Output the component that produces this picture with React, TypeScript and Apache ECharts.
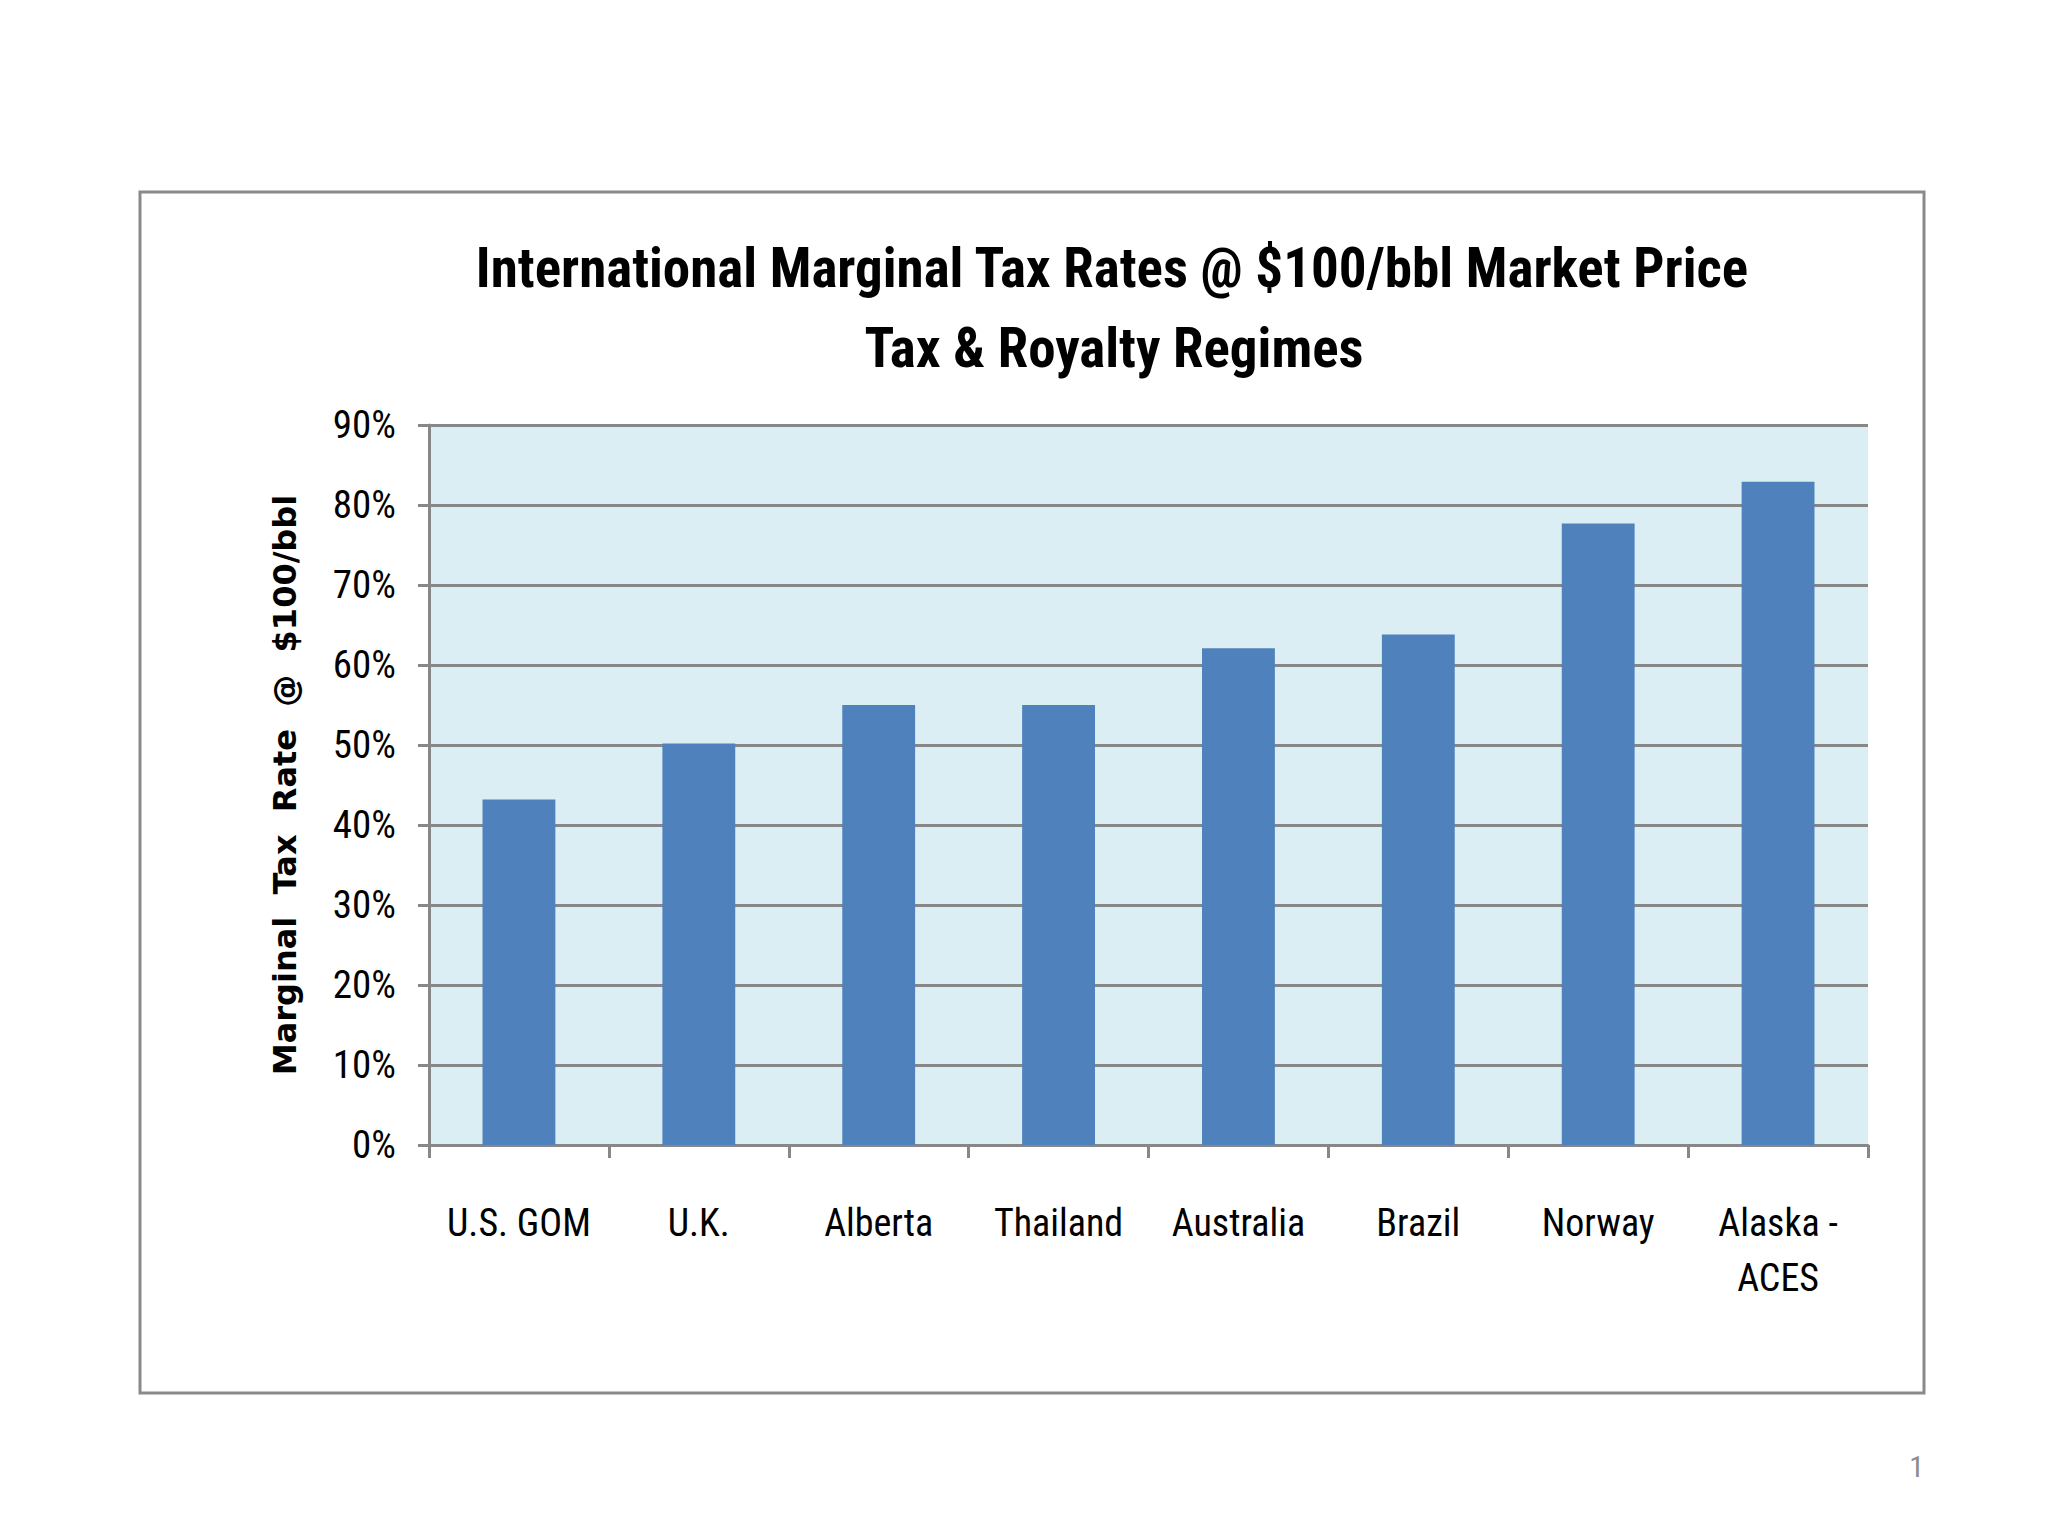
import React, { useEffect, useRef } from "react";
import * as echarts from "echarts";

const categories = ["U.S. GOM", "U.K.", "Alberta", "Thailand", "Australia", "Brazil", "Norway", "Alaska -\nACES"];
const rates = [43.2, 50.2, 55.0, 55.0, 62.1, 63.8, 77.7, 82.9];
const titleLines = ["International Marginal Tax Rates @ $100/bbl Market Price", "Tax & Royalty Regimes"];
const yAxisName = "Marginal  Tax  Rate  @  $100/bbl";
const pageNumber = "1";

const FONT = "'Liberation Sans Narrow', 'Roboto Condensed', 'Noto Sans', sans-serif";

export default function App() {
  const ref = useRef<HTMLDivElement>(null);
  useEffect(() => {
    if (!ref.current) return;
    const chart = echarts.init(ref.current, null, { renderer: "svg" });
    chart.setOption({
      animation: false,
      backgroundColor: "#ffffff",
      grid: {
        left: 429,
        top: 425,
        right: 180,
        bottom: 391,
        show: true,
        backgroundColor: "#DBEEF4",
        borderWidth: 0,
      },
      graphic: [
        {
          type: "rect",
          shape: { x: 140, y: 192, width: 1784, height: 1201 },
          style: { fill: "none", stroke: "#8a8a8a", lineWidth: 3 },
          z: 0,
        },
        {
          type: "text",
          x: 1112,
          y: 268,
          style: {
            text: titleLines[0],
            font: `bold 55px ${FONT}`,
            fill: "#000",
            align: "center",
            verticalAlign: "middle",
          },
        },
        {
          type: "text",
          x: 1114,
          y: 348,
          style: {
            text: titleLines[1],
            font: `bold 55px ${FONT}`,
            fill: "#000",
            align: "center",
            verticalAlign: "middle",
          },
        },
        {
          type: "text",
          x: 1924,
          y: 1466,
          style: {
            text: pageNumber,
            font: `30px ${FONT}`,
            fill: "#8c8c8c",
            align: "right",
            verticalAlign: "middle",
          },
        },
      ],
      xAxis: {
        type: "category",
        data: categories,
        axisLine: { show: true, lineStyle: { color: "#878787", width: 3 } },
        axisTick: { show: true, length: 13, lineStyle: { color: "#878787", width: 3 } },
        axisLabel: {
          color: "#000",
          fontFamily: FONT,
          fontSize: 38,
          lineHeight: 55,
          margin: 50,
          interval: 0,
        },
        splitLine: { show: false },
      },
      yAxis: {
        type: "value",
        min: 0,
        max: 90,
        interval: 10,
        name: yAxisName,
        nameLocation: "middle",
        nameRotate: 90,
        nameGap: 128,
        nameTextStyle: {
          fontFamily: "'DejaVu Sans', sans-serif",
          fontWeight: "bold",
          fontSize: 32,
          color: "#000",
        },
        axisLine: { show: true, lineStyle: { color: "#878787", width: 3 } },
        axisTick: { show: true, length: 11, lineStyle: { color: "#878787", width: 3 } },
        axisLabel: {
          color: "#000",
          fontFamily: FONT,
          fontSize: 39,
          margin: 33,
          formatter: (v: number) => `${v}%`,
        },
        splitLine: { show: true, lineStyle: { color: "#878787", width: 3 } },
      },
      series: [
        {
          type: "bar",
          data: rates,
          barWidth: "40.5%",
          itemStyle: { color: "#4F81BD" },
        },
      ],
    });
    return () => chart.dispose();
  }, []);
  return (
    <div
      ref={ref}
      style={{ position: "absolute", left: 0, top: 0, width: 2048, height: 1536 }}
    />
  );
}
